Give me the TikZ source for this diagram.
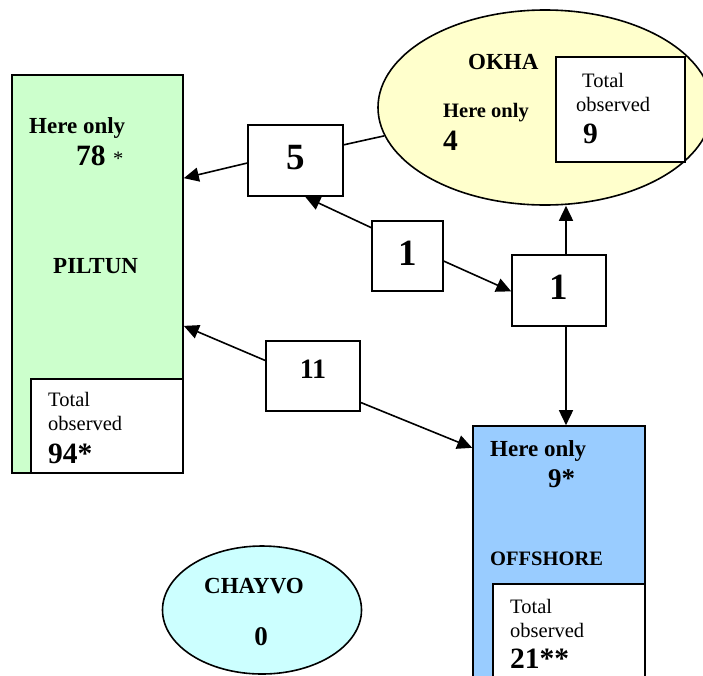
\documentclass[tikz,border=0pt]{standalone}
\usepackage{fontspec}
\setmainfont{Liberation Serif}
\usetikzlibrary{arrows.meta, shapes.geometric}

\definecolor{piltungreen}{HTML}{CCFFCC}
\definecolor{okhayellow}{HTML}{FFFFCC}
\definecolor{offshoreblue}{HTML}{99CCFF}
\definecolor{chayvocyan}{HTML}{CCFFFF}

\tikzset{
    region/.style={draw, line width=1.6pt, inner sep=0pt},
    countbox/.style={draw, fill=white, line width=1.6pt, minimum width=94pt, minimum height=71pt, text depth=6pt, font=\bfseries\fontsize{37}{40}\selectfont},
    arr/.style={-{Triangle[length=15pt,width=14pt]}, line width=1.6pt},
    txt/.style={anchor=base west, inner sep=0pt, font=\fontsize{20.5}{24}\selectfont},
    boldtxt/.style={txt, font=\bfseries\fontsize{20.5}{24}\selectfont},
    numtxt/.style={txt, font=\bfseries\fontsize{29.5}{32}\selectfont},
    nametxt/.style={txt, font=\bfseries\fontsize{23}{26}\selectfont},
}

\begin{document}
\begin{tikzpicture}[x=1pt, y=-1pt]
    \useasboundingbox (0,0) rectangle (703,675);
    \clip (0,0) rectangle (703,675);

    \node[region, fill=piltungreen, minimum width=171pt, minimum height=398pt] (piltun) at (97.5,274) {};
    \node[region, fill=white, minimum width=152pt, minimum height=94pt] (piltuntotal) at (107,426) {};
    \node[region, ellipse, fill=okhayellow, minimum width=334pt, minimum height=195pt] (okha) at (545,107.5) {};
    \node[region, fill=white, minimum width=129pt, minimum height=105pt] (okhatotal) at (620.5,109.5) {};
    \node[region, fill=offshoreblue, minimum width=172pt, minimum height=274pt] (offshore) at (559,563) {};
    \node[region, fill=white, minimum width=152pt, minimum height=116pt] (offshoretotal) at (569,642) {};
    \node[region, ellipse, fill=chayvocyan, minimum width=199pt, minimum height=128pt] (chayvo) at (262,610) {};

    \node[countbox, minimum width=95pt] (five) at (295.5,160.5) {5};
    \node[countbox, minimum width=71pt, minimum height=70pt] (one) at (407.5,256) {1};
    \node[countbox] (oneb) at (559,290.5) {1};
    \node[countbox, minimum height=70pt, text depth=13pt, font=\bfseries\fontsize{28}{30}\selectfont] (eleven) at (313,376) {11};

    \draw[line width=1.6pt] (okha.190) -- (five.18);
    \draw[arr] (five.183) -- (piltun.48);
    \draw[arr] (one.142) -- (five.285);
    \draw[arr] (one.352) -- (oneb.181);
    \draw[arr] ([xshift=7pt]oneb.north) -- ([xshift=7pt]oneb.north |- okha.south);
    \draw[arr] ([xshift=7pt]oneb.south) -- ([xshift=7pt]oneb.south |- offshore.north);
    \draw[arr] (eleven.162) -- (piltun.329);
    \draw[arr] (eleven.331) -- (offshore.127);

    \node[nametxt] (piltunhere) at (29,133) {Here only};
    \node[numtxt] (piltunonly) at (76,165) {78 {\mdseries\fontsize{20.5}{24}\selectfont *}};
    \node[nametxt] (piltunname) at (53,273) {PILTUN};
    \node[txt] (piltuntot1) at (48,406) {Total};
    \node[txt] (piltuntot2) at (48,430) {observed};
    \node[numtxt] (piltuntot3) at (48,463) {94*};

    \node[nametxt] (okhaname) at (468,69) {OKHA};
    \node[boldtxt] (okhahere) at (443,117) {Here only};
    \node[numtxt] (okhaonly) at (443,150) {4};
    \node[txt] (okhatot1) at (582,87) {Total};
    \node[txt] (okhatot2) at (576,111) {observed};
    \node[numtxt] (okhatot3) at (583,143) {9};

    \node[nametxt] (offshorehere) at (490,456) {Here only};
    \node[numtxt, font=\bfseries\fontsize{27}{30}\selectfont] (offshoreonly) at (548,487) {9*};
    \node[boldtxt] (offshorename) at (490,565) {OFFSHORE};
    \node[txt] (offshoretot1) at (510,613) {Total};
    \node[txt] (offshoretot2) at (510,637) {observed};
    \node[numtxt] (offshoretot3) at (510,668) {21**};

    \node[nametxt] (chayvoname) at (204,593) {CHAYVO};
    \node[numtxt, anchor=base, font=\bfseries\fontsize{27}{30}\selectfont] (chayvoonly) at (261,645) {0};
\end{tikzpicture}
\end{document}
